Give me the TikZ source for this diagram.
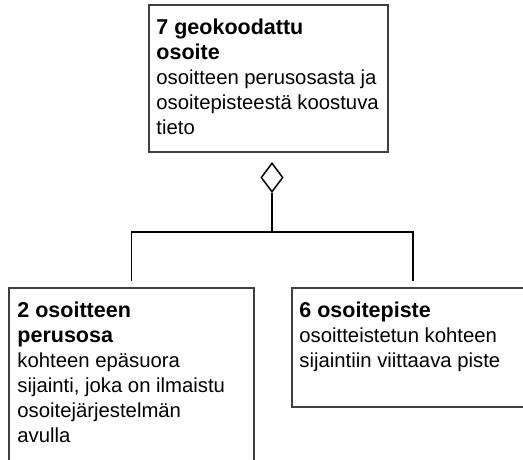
\documentclass[tikz,border=0pt]{standalone}
\usepackage{fontspec}
\setmainfont{Liberation Sans}
\usetikzlibrary{shapes.geometric,positioning}
\definecolor{boxgray}{RGB}{64,64,64}
\newcommand{\classname}[1]{{\fontsize{21.5}{25}\selectfont\bfseries #1}}

\begin{document}
\begin{tikzpicture}[x=1pt, y=1pt,
    classbox/.style={rectangle, draw=boxgray, line width=1.5pt, inner sep=0pt},
    classtext/.style={anchor=north west, align=left, inner sep=0pt, font=\fontsize{20.3}{25}\selectfont},
    link/.style={draw=black, line width=1.5pt},
    aggr/.style={diamond, draw=black, line width=1.5pt, fill=white, minimum width=22pt, minimum height=29pt, inner sep=0pt}
]
    \useasboundingbox (0,0) rectangle (523,459);
    \clip (0,0) rectangle (523,459);

    % Boxes
    \node[classbox, minimum width=239pt, minimum height=147pt] (geo) at (268.5,380.5) {};
    \node[classbox, minimum width=245pt, minimum height=200pt] (perus) at (131.5,71) {};
    \node[classbox, minimum width=242pt, minimum height=119pt] (piste) at (413,111.5) {};

    % Texts
    \node[classtext] (geotxt) at ([xshift=8pt, yshift=-14pt]geo.north west)
        {\classname{7 geokoodattu}\\\classname{osoite}\\osoitteen perusosasta ja\\osoitepisteestä koostuva\\tieto};
    \node[classtext] (perustxt) at ([xshift=9pt, yshift=-14pt]perus.north west)
        {\classname{2 osoitteen}\\\classname{perusosa}\\kohteen epäsuora\\sijainti, joka on ilmaistu\\osoitejärjestelmän\\avulla};
    \node[classtext] (pistetxt) at ([xshift=8pt, yshift=-14pt]piste.north west)
        {\classname{6 osoitepiste}\\osoitteistetun kohteen\\sijaintiin viittaava piste};

    % Aggregation
    \node[aggr] (agg) at (272,281.5) {};
    \coordinate (split) at (272,227);
    \draw[link] (agg.south) -- (split);
    \draw[link, shorten >=6pt] (split) -| (perus.north);
    \draw[link, shorten >=6pt] (split) -| (piste.north);
\end{tikzpicture}
\end{document}
